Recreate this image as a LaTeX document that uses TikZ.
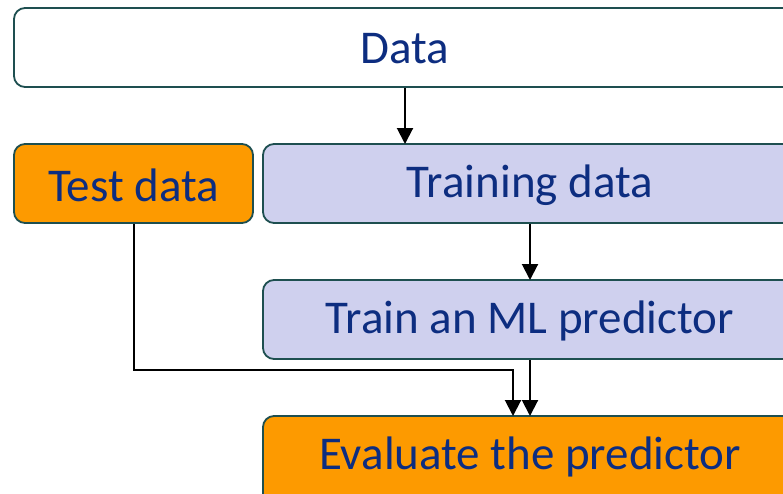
\documentclass[tikz,border=0pt]{standalone}
\usepackage{fontspec}
\setmainfont{Carlito}
\usetikzlibrary{arrows.meta}
\definecolor{txtblue}{HTML}{0D2D80}
\definecolor{edge}{HTML}{1E4F50}
\definecolor{orangefill}{HTML}{FD9A00}
\definecolor{lavfill}{HTML}{CFD0EE}
\tikzset{
  box/.style={draw=edge, line width=1.8pt, rounded corners=11pt},
  lbl/.style={text=txtblue, font=\fontsize{47}{56}\selectfont, inner sep=0pt},
  conn/.style={draw=black, line width=2pt, -{Triangle[length=16pt,width=16pt]}}
}
\begin{document}
\begin{tikzpicture}[x=1pt,y=-1pt]
\useasboundingbox (0,0) rectangle (783,493);
\begin{scope}
\clip (0,0) rectangle (783,493);
\draw[box, fill=white] (14,8) rectangle (797,87);
\node[lbl] (data) at (405,49) {Data};
\draw[box, fill=orangefill] (14,144) rectangle (253,223);
\node[lbl] (test) at (133.5,185) {Test data};
\draw[box, fill=lavfill] (263,144) rectangle (797,223);
\node[lbl] (train) at (530,185) {Training data};
\draw[box, fill=lavfill] (263,280) rectangle (797,359);
\node[lbl] (ml) at (530,321) {Train an ML predictor};
\draw[box, fill=orangefill] (263,416) rectangle (797,505);
\node[lbl] (eval) at (530,457) {Evaluate the predictor};
\coordinate (dataB) at (405,88);
\coordinate (trainT) at (405,144);
\coordinate (trainB) at (530,224);
\coordinate (mlT) at (530,280);
\coordinate (mlB) at (530,360);
\coordinate (evalT) at (530,416);
\coordinate (testB) at (133.5,224);
\coordinate (bend) at (513,370);
\coordinate (evalT2) at (513,416);
\draw[conn] (dataB) -- (trainT);
\draw[conn] (trainB) -- (mlT);
\draw[conn] (mlB) -- (evalT);
\draw[conn] (testB) |- (bend) -- (evalT2);
\end{scope}
\end{tikzpicture}
\end{document}
